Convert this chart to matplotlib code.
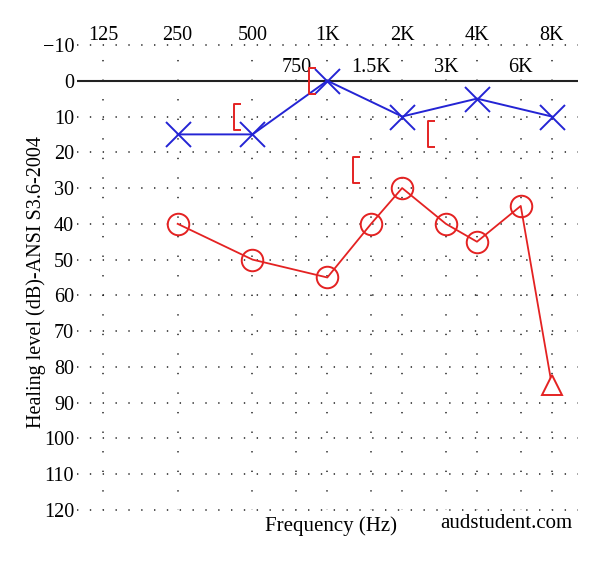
import matplotlib.pyplot as plt
from matplotlib.path import Path
from matplotlib.markers import MarkerStyle

plt.rcParams['font.family'] = ['Liberation Serif', 'DejaVu Serif']

# audiogram frequencies
freqs_main = [125, 250, 500, 1000, 2000, 4000, 8000]
labels_main = ['125', '250', '500', '1K', '2K', '4K', '8K']
freqs_mid = [750, 1500, 3000, 6000]
labels_mid = ['750', '1.5K', '3K', '6K']

# left ear (air, X)
left_f = [250, 500, 1000, 2000, 4000, 8000]
left_db = [15, 15, 0, 10, 5, 10]

# right ear (air, O), last point no response
right_f = [250, 500, 1000, 1500, 2000, 3000, 4000, 6000]
right_db = [40, 50, 55, 40, 30, 40, 45, 35]
nr_f = [8000]
nr_db = [85]

# right ear masked bone conduction "["
bc_f = [500, 1000, 1500, 3000]
bc_db = [10, 0, 25, 15]

blue = '#2424d4'
red = '#e42222'

fig = plt.figure(figsize=(6, 5.62), dpi=100)
ax = fig.add_axes([0.128, 0.0925, 0.835, 0.8275])
ax.set_xscale('log')
ax.set_xlim(98.2, 10180)
ax.set_ylim(120, -10)

for s in ax.spines.values():
    s.set_visible(False)

# dotted grid
for y in range(-10, 121, 10):
    if y == 0:
        continue
    ax.axhline(y, color='#222222', lw=1.1, linestyle=(0, (0.9, 7.5)), zorder=1, clip_on=False)
for f in freqs_main + freqs_mid:
    ax.plot([f, f], [-10, 120], color='#222222', lw=1.1, linestyle=(3, (0.9, 11.9)), zorder=1, clip_on=False)
ax.axhline(0, color='#222222', lw=1.5, zorder=2)

ax.set_xticks(freqs_main, labels_main)
ax.xaxis.set_minor_locator(plt.NullLocator())
ax.xaxis.tick_top()
ax.set_yticks(range(-10, 121, 10))
ax.tick_params(axis='x', length=0, pad=0, labelsize=14.5)
ax.tick_params(axis='y', length=0, pad=2, labelsize=14.5)

for f, lab in zip(freqs_mid, labels_mid):
    ax.text(f, -3.6, lab, ha='center', va='center', fontsize=14.5, zorder=3,
            bbox=dict(facecolor='white', edgecolor='none', pad=0.2))

# data
ax.plot(left_f, left_db, color=blue, lw=1.4, marker='x', ms=18, mew=1.4, zorder=5)
ax.plot(right_f + nr_f, right_db + nr_db, color=red, lw=1.3, zorder=4)
ax.plot(right_f, right_db, ls='none', marker='o', ms=15.5, mew=1.4, mec=red, mfc='none', zorder=5)
ax.plot(nr_f, nr_db, ls='none', marker='^', ms=14, mew=1.4, mec=red, mfc='white', zorder=5)

bracket = Path([(-0.61, 0.72), (-1, 0.72), (-1, -0.72), (-0.61, -0.72)],
               [Path.MOVETO, Path.LINETO, Path.LINETO, Path.LINETO])
ax.plot(bc_f, bc_db, ls='none', marker=MarkerStyle(bracket), ms=26, mew=1.4,
        mec=red, mfc='none', zorder=5)

ax.set_ylabel('Healing level (dB)-ANSI S3.6-2004', fontsize=14.5)
ax.yaxis.set_label_coords(-0.062, 0.49)
ax.text(0.508, -0.034, 'Frequency (Hz)', transform=ax.transAxes, ha='center', va='center', fontsize=15)
ax.text(0.99, -0.028, 'audstudent.com', transform=ax.transAxes, ha='right', va='center', fontsize=15)

fig.savefig('out.png', dpi=100)
